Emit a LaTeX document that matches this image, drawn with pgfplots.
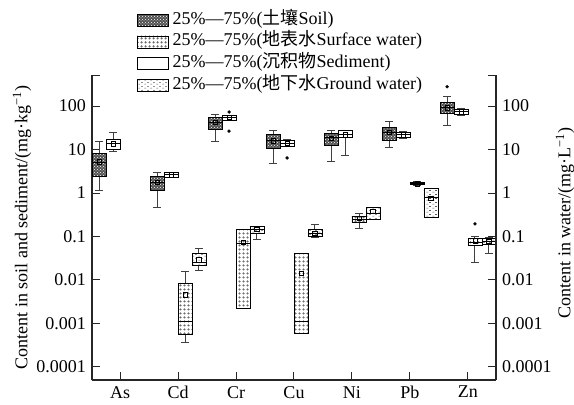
\documentclass[border=0pt]{standalone}
\usepackage{fontspec}
\setmainfont{Liberation Serif}
\newfontfamily\cjk{Noto Sans CJK SC}
\usepackage{pgfplots}
\pgfplotsset{compat=1.18}
\usepgfplotslibrary{statistics}
\usetikzlibrary{patterns}

% fill patterns of the four media
\pgfdeclarepatternformonly{sparsedots}{\pgfqpoint{0pt}{0pt}}{\pgfqpoint{3.5pt}{3.5pt}}{\pgfqpoint{3.5pt}{3.5pt}}{%
  \pgfsetlinewidth{0.5pt}%
  \pgfpathcircle{\pgfqpoint{1.75pt}{1.75pt}}{0.9pt}\pgfusepath{stroke}}
\pgfdeclarepatternformonly{dashes}{\pgfqpoint{0pt}{0pt}}{\pgfqpoint{6pt}{4pt}}{\pgfqpoint{6pt}{4pt}}{%
  \pgfsetlinewidth{0.7pt}%
  \pgfpathmoveto{\pgfqpoint{0.5pt}{1pt}}\pgfpathlineto{\pgfqpoint{2.5pt}{1pt}}%
  \pgfpathmoveto{\pgfqpoint{3.5pt}{3pt}}\pgfpathlineto{\pgfqpoint{5.5pt}{3pt}}%
  \pgfusepath{stroke}}

\tikzset{
  soilfill/.style={draw=black, line width=0.6pt, fill=black!68, postaction={pattern=crosshatch dots, pattern color=white}},
  sedfill/.style={draw=black, line width=0.6pt, fill=white},
  surffill/.style={draw=black, line width=0.6pt, fill=white, postaction={pattern=sparsedots, pattern color=black!70}},
  gwfill/.style={draw=black, line width=0.6pt, fill=white, postaction={pattern=dashes, pattern color=black!65}},
}
\pgfplotsset{
  bx/.style={
    black, solid, mark=*, mark size=1.5pt,
    boxplot/draw direction=y,
    boxplot/box extend=0.24,
    boxplot/whisker extend=0.13,
    boxplot/every box/.style={#1},
    boxplot/every whisker/.style={draw=black!75, line width=0.9pt},
    boxplot/every median/.style={draw=black, line width=0.6pt},
    boxplot/every average/.style={/tikz/mark=square, /tikz/mark size=2.2pt,
      /tikz/mark options={draw=black, fill=none, line width=0.5pt}},
  },
}
% style, position, lower whisker, lower quartile, median, upper quartile, upper whisker, mean, outliers
\newcommand\bp[9]{\addplot[bx=#1, boxplot prepared={draw position=#2,
  lower whisker=#3, lower quartile=#4, median=#5, upper quartile=#6,
  upper whisker=#7, average=#8}] coordinates {#9};}

\begin{document}
\fontsize{18}{21}\selectfont
\begin{tikzpicture}
\begin{axis}[
  scale only axis, width=404pt, height=305pt,
  xmin=0.517, xmax=7.483,
  ymode=log, ymin=5e-5, ymax=518,
  axis line style={black!85, line width=1.2pt},
  tick style={black!85, line width=1pt},
  tick align=inside, major tick length=8pt,
  ytick={1e-4,1e-3,1e-2,1e-1,1,10,100},
  yticklabels={0.0001,0.001,0.01,0.1,1,10,100},
  extra y ticks={518}, extra y tick labels={},
  yminorticks=false,
  axis x line*=bottom, axis y line*=left,
  xtick={1,...,7}, xticklabels={As,Cd,Cr,Cu,Ni,Pb,Zn},
  ylabel={Content in soil and sediment/(mg·kg\textsuperscript{−1})},
  ylabel style={at={(axis description cs:-0.173,0.5)}, anchor=center},
  legend style={at={(axis description cs:0.111,1.207)}, anchor=north west,
    draw=none, fill=none, inner sep=0pt, row sep=5.8pt,
    nodes={inner sep=0pt, text height=12pt, text depth=4pt},
    /tikz/every odd column/.append style={column sep=4pt}},
  legend cell align=left,
]
\addlegendimage{legend image code/.code={\draw[soilfill] (0pt,-6pt) rectangle (31pt,6pt);}}
\addlegendentry{25\%—75\%({\cjk 土壤}Soil)}
\addlegendimage{legend image code/.code={\draw[surffill] (0pt,-6pt) rectangle (31pt,6pt);}}
\addlegendentry{25\%—75\%({\cjk 地表水}Surface water)}
\addlegendimage{legend image code/.code={\draw[sedfill] (0pt,-6pt) rectangle (31pt,6pt);}}
\addlegendentry{25\%—75\%({\cjk 沉积物}Sediment)}
\addlegendimage{legend image code/.code={\draw[gwfill] (0pt,-6pt) rectangle (31pt,6pt);}}
\addlegendentry{25\%—75\%({\cjk 地下水}Ground water)}

% soil
\bp{soilfill}{0.64}{1.15}{2.4}{5.0}{8.1}{15}{5.2}{}
\bp{soilfill}{1.64}{0.47}{1.15}{1.8}{2.4}{3.0}{1.8}{}
\bp{soilfill}{2.64}{15.5}{29.4}{43}{56.6}{64}{43}{}
\bp{soilfill}{3.64}{4.75}{10.9}{16.4}{22.5}{28}{16}{}
\bp{soilfill}{4.64}{5.4}{12.6}{19}{23.4}{27}{18}{}
\bp{soilfill}{5.64}{10.9}{16.4}{25.5}{33}{45}{25}{}
\bp{soilfill}{6.64}{35}{68}{96}{119}{164}{92}{(0,279)}
% sediment
\bp{sedfill}{0.88}{9.1}{10.2}{14.2}{17.3}{25}{13.5}{}
\bp{sedfill}{1.88}{2.3}{2.35}{2.65}{3.0}{3.05}{2.65}{}
\bp{sedfill}{2.88}{46}{46}{55}{62}{62}{55}{(0,73) (0,26.5)}
\bp{sedfill}{3.88}{11.9}{11.9}{14}{16.4}{17}{14}{(0,6.4)}
\bp{sedfill}{4.88}{7.4}{19.5}{22}{28}{28}{22}{}
\bp{sedfill}{5.88}{18}{19}{22}{25.5}{26}{22}{}
\bp{sedfill}{6.88}{62}{64}{74}{84}{86}{74}{}
% surface water
\bp{surffill}{2.12}{0.00037}{0.00056}{0.0011}{0.0083}{0.0155}{0.0046}{}
\bp{surffill}{3.12}{0.0022}{0.0022}{0.071}{0.144}{0.144}{0.073}{}
\bp{surffill}{4.12}{0.0006}{0.0006}{0.00114}{0.041}{0.041}{0.0145}{}
\bp{surffill}{5.12}{0.15}{0.214}{0.25}{0.29}{0.346}{0.26}{}
\bp{surffill}{6.12}{1.5}{1.55}{1.65}{1.75}{1.85}{1.65}{(0,1.62)}
\bp{surffill}{7.12}{0.025}{0.062}{0.075}{0.091}{0.1}{0.08}{(0,0.195)}
% ground water
\bp{gwfill}{2.36}{0.0163}{0.0213}{0.026}{0.041}{0.052}{0.029}{}
\bp{gwfill}{3.36}{0.085}{0.121}{0.145}{0.172}{0.172}{0.145}{}
\bp{gwfill}{4.36}{0.093}{0.102}{0.12}{0.144}{0.185}{0.12}{}
\bp{gwfill}{5.36}{0.255}{0.255}{0.333}{0.47}{0.47}{0.38}{}
\bp{gwfill}{6.36}{0.27}{0.27}{0.8}{1.26}{1.26}{0.75}{}
\bp{gwfill}{7.36}{0.041}{0.065}{0.078}{0.091}{0.095}{0.078}{}
\end{axis}
\begin{axis}[
  scale only axis, width=404pt, height=305pt,
  xmin=0.517, xmax=7.483,
  ymode=log, ymin=5e-5, ymax=518,
  axis line style={black!85, line width=1.2pt},
  tick style={black!85, line width=1pt},
  tick align=inside, major tick length=8pt,
  ytick={1e-4,1e-3,1e-2,1e-1,1,10,100},
  yticklabels={0.0001,0.001,0.01,0.1,1,10,100},
  extra y ticks={518}, extra y tick labels={},
  yminorticks=false,
  axis x line=none, axis y line*=right,
  xtick=\empty,
  ylabel={Content in water/(mg·L\textsuperscript{−1})},
  ylabel style={at={(axis description cs:1.171,0.515)}, anchor=center},
]
\addplot[draw=none] coordinates {(1,1)};
\end{axis}
\pgfresetboundingbox
\path (0,0) ++(-92pt,-25pt) coordinate (p1) (0,0) ++(482pt,380pt) coordinate (p2);
\path (p1) rectangle (p2);
\end{tikzpicture}
\end{document}
